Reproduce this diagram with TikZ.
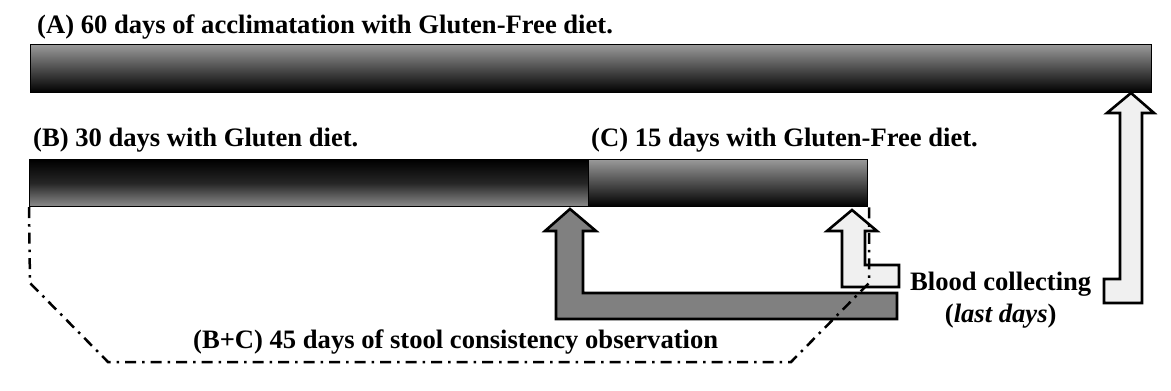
\documentclass[tikz,border=0pt]{standalone}
\usepackage{fontspec}
\setmainfont{Liberation Serif}
\usetikzlibrary{positioning}

\tikzset{
  bar/.style={draw=black, line width=1.2pt, inner sep=0pt, anchor=north west},
  lbl/.style={font=\fontsize{26.6}{30}\selectfont\bfseries, inner sep=0pt},
  blockarrow/.style={draw=black, line width=2.6pt, line join=miter},
  stoolline/.style={line width=2.5pt, dash pattern=on 11pt off 6pt on 2.5pt off 6pt}
}

\begin{document}
\begin{tikzpicture}[x=1pt, y=-1pt]
        % Fix the frame to the size of the figure
        \useasboundingbox (0,0) rectangle (1171,391);

        % Timeline bars
        \node[bar, minimum width=1121pt, minimum height=48pt, top color=gray!80, bottom color=black] (barA) at (30,44) {};
        \node[bar, minimum width=559pt, minimum height=47pt, top color=black, bottom color=gray!90, middle color=black!85] (barB) at (29,159) {};
        \node[bar, minimum width=279pt, minimum height=47pt, top color=gray!80, bottom color=black] (barC) at (588,159) {};

        % Labels of the three periods
        \node[lbl, anchor=base west] (labA) at (37,33) {(A) 60 days of acclimatation with Gluten-Free diet.};
        \node[lbl, anchor=base west] (labB) at (33,146) {(B) 30 days with Gluten diet.};
        \node[lbl, anchor=base west] (labC) at (591,146) {(C) 15 days with Gluten-Free diet.};

        % Arrow marking the start of period C
        \draw[blockarrow, fill=gray] (570,209) -- (596,231) -- (583,231) -- (583,293) -- (897,293)
            -- (897,319) -- (556,319) -- (556,231) -- (545,231) -- cycle;

        % Arrows marking the blood collecting
        \draw[blockarrow, fill=gray!12] (852,210) -- (877,231) -- (865,231) -- (865,265) -- (899,265)
            -- (899,287) -- (842,287) -- (842,231) -- (827,231) -- cycle;
        \draw[blockarrow, fill=gray!12] (1131,93) -- (1154,113) -- (1142,113) -- (1142,303) -- (1104,303)
            -- (1104,279) -- (1120,279) -- (1120,113) -- (1107,113) -- cycle;

        \node[lbl, anchor=base west] (blood) at (910,290) {Blood collecting};
        \node[lbl, anchor=base] (last) at (blood.base |- 0,322) {(\textit{last days})};

        % Bracket of the stool consistency observation (B+C)
        \coordinate (S1) at (barB.south west);
        \coordinate (S2) at (869,206);
        \draw[stoolline] (S1) -- (30,283) -- (108,362) -- (791,362) -- (869,283) -- (S2);
        \node[lbl, anchor=base west] (labBC) at (193,348) {(B+C) 45 days of stool consistency observation};

    \end{tikzpicture}
\end{document}
